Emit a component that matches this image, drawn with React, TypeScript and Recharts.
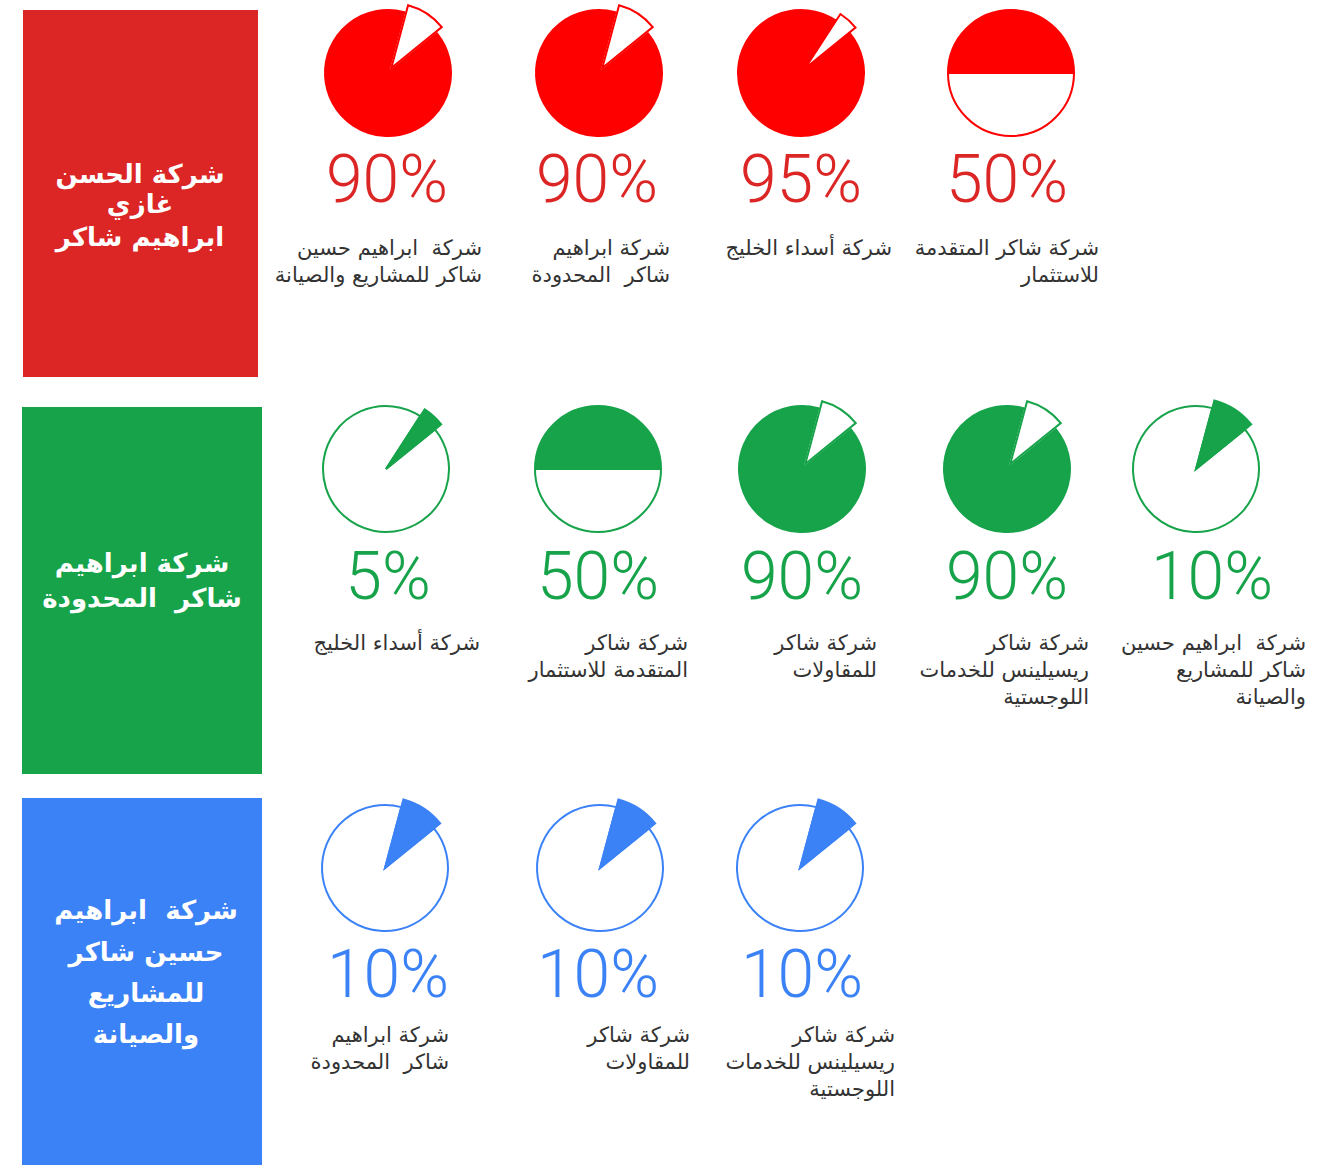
import { PieChart, Pie, Cell } from 'recharts';

// values per group (percent filled)
const redValues = [90, 90, 95, 50];
const greenValues = [5, 50, 90, 90, 10];
const blueValues = [10, 10, 10];

const redLabels = [
  ['شركة  ابراهيم حسين', 'شاكر للمشاريع والصيانة'],
  ['شركة ابراهيم', 'شاكر  المحدودة'],
  ['شركة أسداء الخليج'],
  ['شركة شاكر المتقدمة', 'للاستثمار'],
];
const greenLabels = [
  ['شركة أسداء الخليج'],
  ['شركة شاكر', 'المتقدمة للاستثمار'],
  ['شركة شاكر', 'للمقاولات'],
  ['شركة شاكر', 'ريسيلينس للخدمات', 'اللوجستية'],
  ['شركة  ابراهيم حسين', 'شاكر للمشاريع', 'والصيانة'],
];
const blueLabels = [
  ['شركة ابراهيم', 'شاكر  المحدودة'],
  ['شركة شاكر', 'للمقاولات'],
  ['شركة شاكر', 'ريسيلينس للخدمات', 'اللوجستية'],
];

const redTitle = ['شركة الحسن', 'غازي', 'ابراهيم شاكر'];
const greenTitle = ['شركة ابراهيم', 'شاكر  المحدودة'];
const blueTitle = ['شركة  ابراهيم', 'حسين شاكر', 'للمشاريع', 'والصيانة'];

const rows = [
  {
    values: redValues, labels: redLabels, title: redTitle,
    boxColor: '#DC2626', pieColor: '#FF0000', textColor: '#DC2626',
    box: { x: 23, y: 10, w: 235, h: 367 }, titleX: 140, titleY: [174, 204, 237],
    pieX: [388, 599, 801, 1011], pieY: 73,
    pctX: [387, 597, 801, 1007], pctY: 180,
    labelRight: [482, 670, 892, 1099], labelY: 248,
  },
  {
    values: greenValues, labels: greenLabels, title: greenTitle,
    boxColor: '#16A34A', pieColor: '#16A34A', textColor: '#16A34A',
    box: { x: 22, y: 407, w: 240, h: 367 }, titleX: 142, titleY: [563, 598],
    pieX: [386, 598, 802, 1007, 1196], pieY: 469,
    pctX: [388, 598, 802, 1007, 1212], pctY: 577,
    labelRight: [480, 688, 877, 1089, 1306], labelY: 643,
  },
  {
    values: blueValues, labels: blueLabels, title: blueTitle,
    boxColor: '#3B82F6', pieColor: '#3B82F6', textColor: '#3B82F6',
    box: { x: 22, y: 798, w: 240, h: 367 }, titleX: 146, titleY: [910, 952, 993, 1034],
    pieX: [385, 600, 800], pieY: 868,
    pctX: [388, 598, 802], pctY: 975,
    labelRight: [449, 690, 895], labelY: 1035,
  },
];

const SIZE = 170;

const GaugePie = ({ value, color, x, y }: { value: number; color: string; x: number; y: number }) => {
  const data = [{ name: 'value', v: value }, { name: 'rest', v: 100 - value }];
  // clockwise-from-top angle where the sequence starts
  const rot = value === 50 ? 270 : value > 50 ? 51 : 51 - value * 3.6;
  const startAngle = 90 - rot;
  const endAngle = startAngle - 360;
  const small = value === 50 ? -1 : value > 50 ? 1 : 0;
  const c = SIZE / 2;

  let dx = 0;
  let dy = 0;
  let r2 = 71;
  if (small === 1) {
    const mid = ((rot + 360 - (100 - value) * 1.8) * Math.PI) / 180;
    dx = 6 * Math.sin(mid);
    dy = -6 * Math.cos(mid);
    r2 = 65;
  }

  return (
    <div style={{ position: 'absolute', left: x - c, top: y - c, width: SIZE, height: SIZE }}>
      <PieChart width={SIZE} height={SIZE} margin={{ top: 0, right: 0, bottom: 0, left: 0 }}>
        <Pie
          data={data}
          dataKey="v"
          cx={c}
          cy={c}
          innerRadius={0}
          outerRadius={63}
          startAngle={startAngle}
          endAngle={endAngle}
          isAnimationActive={false}
        >
          {data.map((d, i) => (
            <Cell
              key={d.name}
              fill={i === small ? 'none' : i === 0 ? color : '#fff'}
              stroke={i === small ? 'none' : color}
              strokeWidth={2}
            />
          ))}
        </Pie>
        {small >= 0 && (
          <Pie
            data={data}
            dataKey="v"
            cx={c + dx}
            cy={c + dy}
            innerRadius={0}
            outerRadius={r2}
            startAngle={startAngle}
            endAngle={endAngle}
            isAnimationActive={false}
          >
            {data.map((d, i) => (
              <Cell
                key={d.name}
                fill={i !== small ? 'none' : i === 0 ? color : '#fff'}
                stroke={i !== small ? 'none' : color}
                strokeWidth={2}
              />
            ))}
          </Pie>
        )}
      </PieChart>
    </div>
  );
};

const arabic = '"DejaVu Sans", sans-serif';

export default function App() {
  return (
    <div style={{ position: 'absolute', left: 0, top: 0, width: 1335, height: 1167, background: '#fff' }}>
      {rows.map((row, r) => (
        <div key={r}>
          <div
            style={{
              position: 'absolute', left: row.box.x, top: row.box.y,
              width: row.box.w, height: row.box.h, background: row.boxColor,
            }}
          />
          {row.title.map((t, i) => (
            <div
              key={i}
              dir="rtl"
              style={{
                position: 'absolute', left: row.titleX - 130, width: 260, top: row.titleY[i] - 15,
                height: 30, lineHeight: '30px', textAlign: 'center', color: '#fff',
                fontFamily: arabic, fontWeight: 'bold', fontSize: 26, whiteSpace: 'pre',
              }}
            >
              {t}
            </div>
          ))}
          {row.values.map((v, i) => (
            <div key={i}>
              <GaugePie value={v} color={row.pieColor} x={row.pieX[i]} y={row.pieY} />
              <div
                style={{
                  position: 'absolute', left: row.pctX[i] - 100, width: 200, top: row.pctY - 33,
                  height: 66, lineHeight: '66px', textAlign: 'center', color: row.textColor,
                  fontFamily: 'Roboto, sans-serif', fontSize: 66, fontWeight: 300,
                }}
              >
                {v}%
              </div>
              {row.labels[i].map((line, j) => (
                <div
                  key={j}
                  dir="rtl"
                  style={{
                    position: 'absolute', left: row.labelRight[i] - 300, width: 300,
                    top: row.labelY + j * 27 - 13, height: 26, lineHeight: '26px',
                    textAlign: 'right', color: '#333', fontFamily: arabic, fontSize: 21,
                    whiteSpace: 'pre',
                  }}
                >
                  {line}
                </div>
              ))}
            </div>
          ))}
        </div>
      ))}
    </div>
  );
}
